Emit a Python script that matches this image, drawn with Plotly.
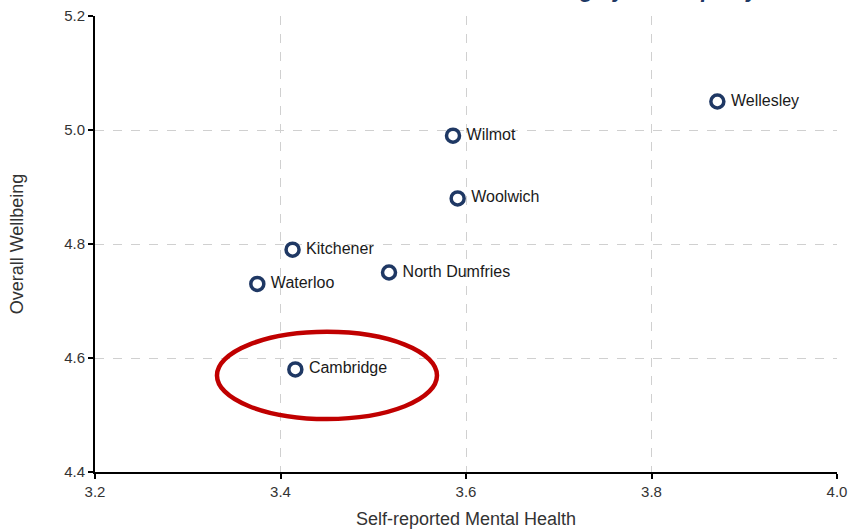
import plotly.graph_objects as go

municipalities = ["Wellesley", "Wilmot", "Woolwich", "Kitchener", "North Dumfries", "Waterloo", "Cambridge"]
mental_health = [3.871, 3.586, 3.591, 3.413, 3.517, 3.375, 3.416]
wellbeing = [5.05, 4.99, 4.88, 4.79, 4.75, 4.73, 4.58]

x_ticks = [3.2, 3.4, 3.6, 3.8, 4.0]
y_ticks = [4.4, 4.6, 4.8, 5.0, 5.2]

highlight = "Cambridge"
NAVY = "#1f3864"
FONT = "Arial, Liberation Sans, sans-serif"

fig = go.Figure()
fig.add_trace(go.Scatter(
    x=mental_health, y=wellbeing, text=[" " + m for m in municipalities],
    mode="markers+text", textposition="middle right",
    textfont=dict(family=FONT, size=16, color="#1a1a1a"),
    marker=dict(size=13, color="white", line=dict(color=NAVY, width=3.5)),
    cliponaxis=False, showlegend=False, hoverinfo="text",
))

hi = municipalities.index(highlight)
hx, hy = mental_health[hi], wellbeing[hi]
fig.add_shape(type="circle", xref="x", yref="y",
              x0=hx - 0.0845, x1=hx + 0.1527, y0=hy - 0.087, y1=hy + 0.066,
              line=dict(color="#c00000", width=4.5))

fig.add_annotation(
    text="Mental Health and Overall Wellbeing by Municipality",
    xref="paper", yref="paper", x=(762 - 95) / 742, y=1.0, xanchor="right", yanchor="bottom",
    yshift=12, showarrow=False,
    font=dict(family=FONT, size=22, color="#1f3864", weight="bold", style="italic"),
)

axis_common = dict(
    showgrid=True, gridcolor="#d0d0d0", griddash="dash", gridwidth=1,
    showline=True, linecolor="black", linewidth=2,
    ticks="outside", ticklen=5, tickcolor="black", tickwidth=1.5,
    tickfont=dict(family=FONT, size=15, color="#333333"),
    ticklabeloverflow="allow",
    zeroline=False,
)
fig.update_xaxes(range=[3.2, 4.0], tickvals=x_ticks, ticktext=[f"{v:.1f}" for v in x_ticks],
                 title=dict(text="Self-reported Mental Health", font=dict(family=FONT, size=18, color="#333333"), standoff=13),
                 **axis_common)
fig.update_yaxes(range=[4.4, 5.2], tickvals=y_ticks, ticktext=[f"{v:.1f}" for v in y_ticks],
                 title=dict(text="Overall Wellbeing", font=dict(family=FONT, size=18, color="#333333"), standoff=36),
                 **axis_common)

fig.update_layout(
    width=850, height=530,
    margin=dict(l=95, r=13, t=16, b=58, autoexpand=False),
    plot_bgcolor="white", paper_bgcolor="white",
    font=dict(family=FONT),
)

fig.write_html("out.html", config={"displayModeBar": False},
               post_script="document.body.style.margin='0px';")
